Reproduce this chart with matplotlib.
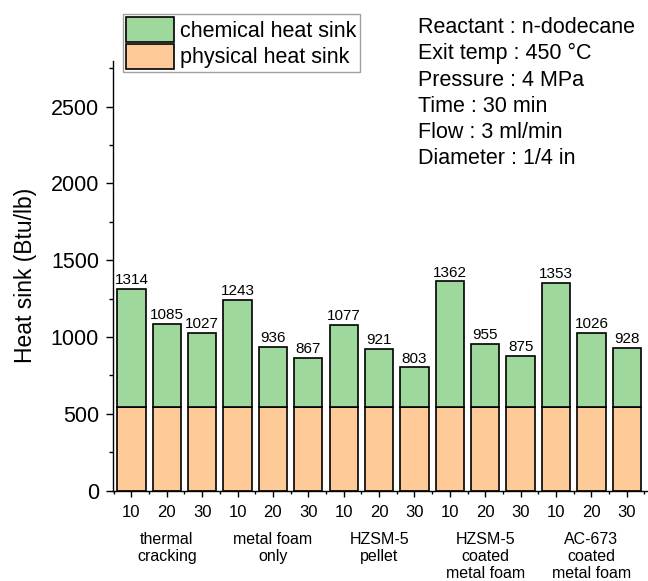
import numpy as np
import matplotlib.pyplot as plt

plt.rcParams['font.family'] = ['Liberation Sans', 'DejaVu Sans']

# residence time (min) for each run, grouped by catalyst setup
times = ['10', '20', '30'] * 5
groups = ['thermal\ncracking', 'metal foam\nonly', 'HZSM-5\npellet',
          'HZSM-5\ncoated\nmetal foam', 'AC-673\ncoated\nmetal foam']
# total heat sink (Btu/lb) and the physical part of it
total = [1314, 1085, 1027, 1243, 936, 867, 1077, 921, 803,
         1362, 955, 875, 1353, 1026, 928]
physical = [547] * 15

conditions = ['Reactant : n-dodecane', 'Exit temp : 450 \u00b0C', 'Pressure : 4 MPa',
              'Time : 30 min', 'Flow : 3 ml/min', 'Diameter : 1/4 in']

green = '#9ed89c'
orange = '#fdca98'

fig = plt.figure(figsize=(6.48, 5.81), dpi=100)
ax = fig.add_axes([113 / 648, 1 - 490.7 / 581, 1 - 113 / 648, (490.7 - 60.6) / 581])

x = np.arange(len(total))
chemical = np.array(total) - np.array(physical)
ax.bar(x, physical, width=0.8, color=orange, edgecolor='black', linewidth=1.2,
       label='physical heat sink')
ax.bar(x, chemical, bottom=physical, width=0.8, color=green, edgecolor='black',
       linewidth=1.2, label='chemical heat sink')

for xi, v in zip(x, total):
    ax.text(xi, v + 12, str(v), ha='center', va='bottom', fontsize=11)

ax.set_xlim(-0.52, 14.6)
ax.set_ylim(0, 2800)
ax.set_xticks(x)
ax.set_xticklabels(times, fontsize=12)
ax.set_xticks(np.arange(-0.5, 15, 1), minor=True)
ax.set_yticks(np.arange(0, 2501, 500))
ax.set_yticks(np.arange(0, 2800, 250), minor=True)
ax.tick_params(axis='y', which='major', labelsize=15.5, length=5, width=1, pad=5)
ax.tick_params(axis='y', which='minor', length=3, width=1)
ax.tick_params(axis='x', which='major', length=4, width=1, pad=6.5)
ax.tick_params(axis='x', which='minor', length=2.5, width=1)
ax.spines['top'].set_visible(False)
ax.spines['right'].set_visible(False)
for s in ('left', 'bottom'):
    ax.spines[s].set_linewidth(1)

ax.set_ylabel('Heat sink (Btu/lb)', fontsize=16.5, labelpad=10)

for i, g in enumerate(groups):
    ax.annotate(g, xy=(3 * i + 1, 0), xycoords=('data', 'axes fraction'),
                xytext=(0, -30), textcoords='offset points',
                ha='center', va='top', fontsize=11.5, linespacing=1.15)

h, l = ax.get_legend_handles_labels()
leg = fig.legend(h[::-1], l[::-1], loc='upper left',
                 bbox_to_anchor=(123 / 648, 1 - 14 / 581), fontsize=15.5,
                 frameon=True, fancybox=False, edgecolor='#888888',
                 handlelength=2.2, handleheight=1.4, labelspacing=0.08,
                 borderpad=0.15, handletextpad=0.3, borderaxespad=0)
leg.get_frame().set_linewidth(1)

# run conditions, one line each
for i, line in enumerate(conditions):
    fig.text(418 / 648, 1 - (33.3 + 26.2 * i) / 581, line, ha='left',
             va='baseline', fontsize=15.5)

fig.savefig('out.png', dpi=100)
